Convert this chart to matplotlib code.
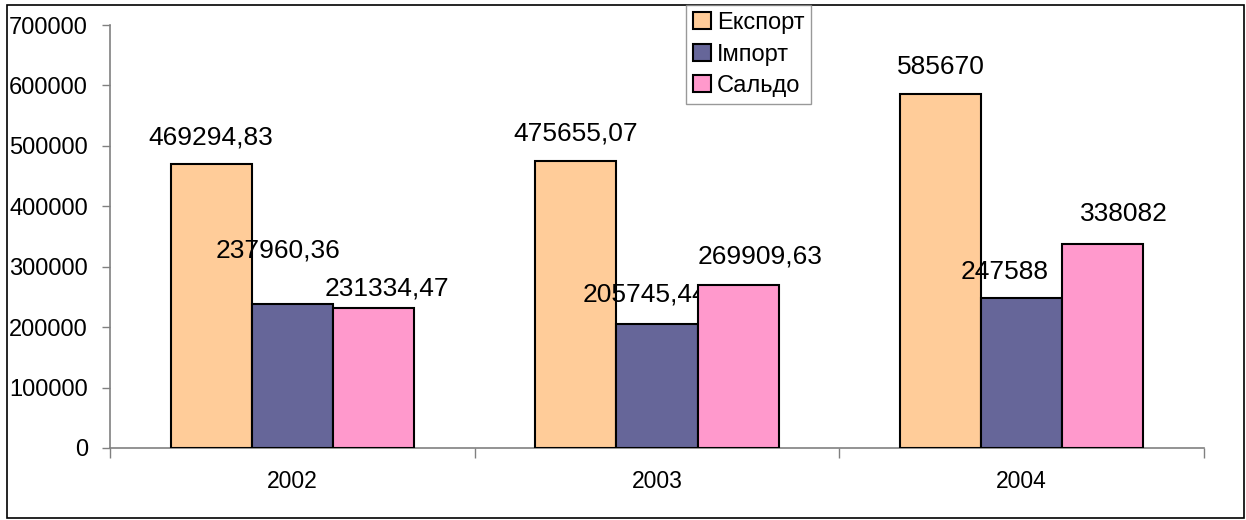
import matplotlib
matplotlib.use('Agg')
import matplotlib.pyplot as plt
from matplotlib.patches import Rectangle, Patch
from matplotlib.ticker import MultipleLocator, FixedLocator
import numpy as np

plt.rcParams['font.family'] = ['Liberation Sans', 'DejaVu Sans']

years = ['2002', '2003', '2004']
series_names = ['Експорт', 'Імпорт', 'Сальдо']
export_vals = [469294.83, 475655.07, 585670]
import_vals = [237960.36, 205745.44, 247588]
saldo_vals = [231334.47, 269909.63, 338082]
colors = ['#FFCC99', '#666699', '#FF99CC']

# label offsets (dx, dy) in pixels from the top centre of each bar, per series / year
label_offsets = [
    [(0, 27), (0, 27), (0, 27)],
    [(-14, 54), (-12, 29), (-17, 26)],
    [(13, 20), (22, 28), (21, 30)],
]


def fmt(v):
    if float(v).is_integer():
        return str(int(v))
    return f'{v:.2f}'.replace('.', ',')


fig = plt.figure(figsize=(12.46, 5.2), dpi=100)
ax = fig.add_axes([110 / 1246, 1 - 448 / 520, 1094 / 1246, 423 / 520])

# outer frame round the whole chart
fig.patches.append(Rectangle((7 / 1246, 2 / 520), 1237 / 1246, 513 / 520,
                             transform=fig.transFigure, fill=False,
                             edgecolor='black', linewidth=1.2))

x = np.arange(len(years)) + 0.5
w = 0.2225
all_vals = [export_vals, import_vals, saldo_vals]
for i, (vals, c) in enumerate(zip(all_vals, colors)):
    xs = x + (i - 1) * w
    ax.bar(xs, vals, width=w, color=c, edgecolor='black', linewidth=1.5, zorder=3)
    for j, (xx, v) in enumerate(zip(xs, vals)):
        dx, dy = label_offsets[i][j]
        ax.annotate(fmt(v), (xx, v), xytext=(dx * 0.72, dy * 0.72),
                    textcoords='offset points', ha='center', va='center',
                    fontsize=19)

ax.set_xlim(0, 3)
ax.set_ylim(0, 700000)
ax.yaxis.set_major_locator(MultipleLocator(100000))
ax.set_xticks(x)
ax.set_xticklabels(years, fontsize=16.5)
ax.xaxis.set_minor_locator(FixedLocator([0, 1, 2, 3]))
ax.tick_params(axis='x', which='major', length=0, pad=16)
ax.tick_params(axis='x', which='minor', length=7, width=1, color='#808080', direction='out')
ax.tick_params(axis='y', length=6, width=1, color='#808080', labelsize=17, pad=10)

for s in ['top', 'right']:
    ax.spines[s].set_visible(False)
for s in ['left', 'bottom']:
    ax.spines[s].set_color('#808080')
    ax.spines[s].set_linewidth(1.2)

handles = [Patch(facecolor=c, edgecolor='black', linewidth=1.5) for c in colors]
leg = fig.legend(handles, series_names, loc='upper left',
                 bbox_to_anchor=(686 / 1246, 1 - 5 / 520), fontsize=17,
                 frameon=True, fancybox=False, handlelength=0.75, handleheight=0.75,
                 handletextpad=0.25, borderpad=0.3, labelspacing=0.4,
                 borderaxespad=0)
leg.get_frame().set_edgecolor('#808080')
leg.get_frame().set_linewidth(1.0)

fig.savefig('out.png', dpi=100)
